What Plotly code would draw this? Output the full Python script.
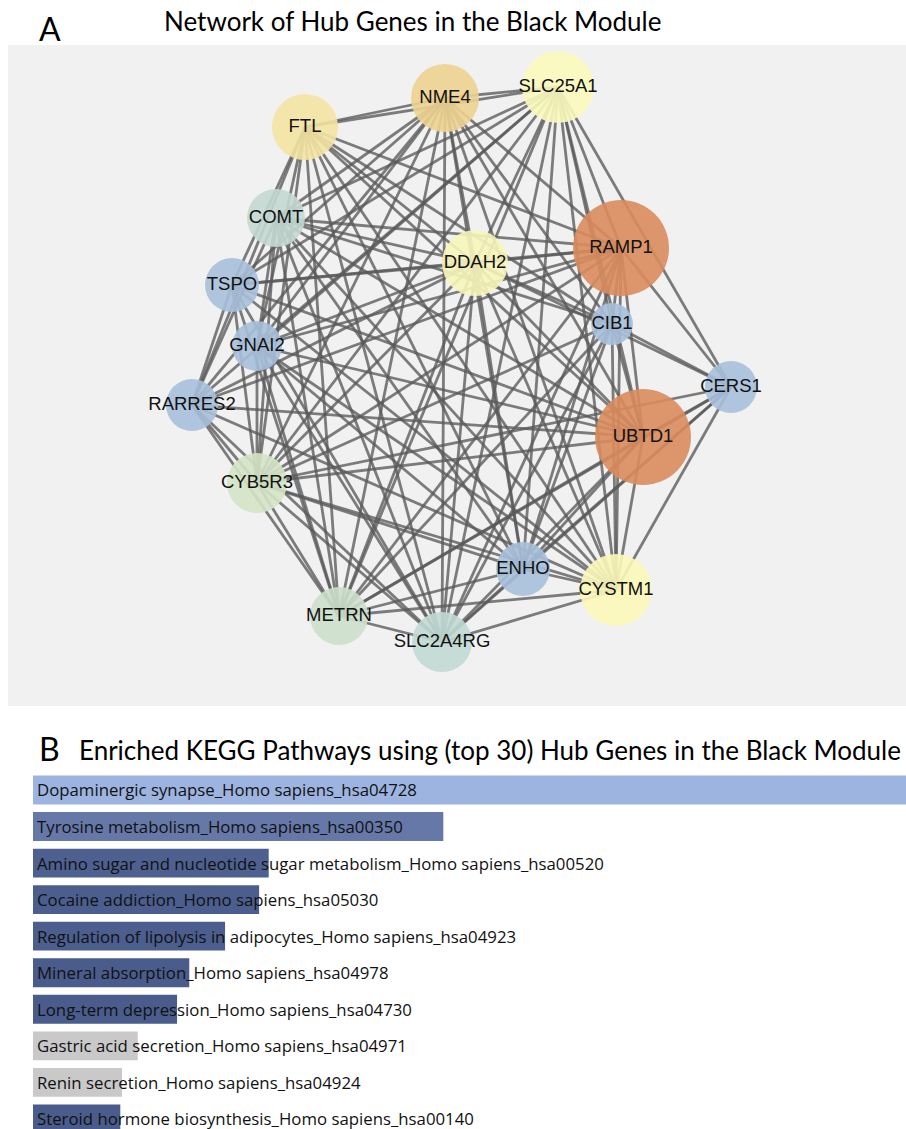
import plotly.graph_objects as go

# ---------------- Network data ----------------
genes = ["FTL", "NME4", "SLC25A1", "COMT", "DDAH2", "RAMP1", "TSPO", "GNAI2",
         "CIB1", "CERS1", "RARRES2", "UBTD1", "CYB5R3", "ENHO", "CYSTM1",
         "METRN", "SLC2A4RG"]

# layout coordinates of each gene (network canvas units)
layout_x = [305, 445, 558, 276, 475, 621, 232, 257, 612, 731, 192, 643, 257, 523, 616, 339, 442]
layout_y = [127, 98, 87, 218, 263, 248, 285, 346, 324, 387, 405, 437, 483, 569, 590, 616, 642]

# node diameter (px) and fill colour
node_size = [66, 68, 72, 58, 66, 96, 54, 50, 42, 52, 52, 96, 60, 54, 72, 58, 60]
node_color = ["#f4e3a3", "#edd190", "#fbf9bd", "#c3d8d1", "#f8f6ba", "#da8c5c",
              "#a7c0db", "#a7c0db", "#a7c0db", "#a7c0db", "#a7c0db", "#da8c5c",
              "#d4e3c5", "#a7c0db", "#fbf8b8", "#cddfcb", "#c1d9d3"]

# gene pairs without an interaction
missing = {("CERS1", "FTL"), ("CERS1", "NME4"), ("CERS1", "COMT"), ("CERS1", "TSPO"),
           ("CERS1", "GNAI2"), ("CERS1", "RARRES2"), ("CIB1", "RARRES2"),
           ("CIB1", "TSPO"), ("CIB1", "GNAI2"), ("COMT", "FTL"), ("COMT", "TSPO"),
           ("GNAI2", "RARRES2"), ("ENHO", "RARRES2"), ("ENHO", "TSPO"),
           ("GNAI2", "TSPO")}

edges = []
for i in range(len(genes)):
    for j in range(i + 1, len(genes)):
        a, b = genes[i], genes[j]
        if (a, b) in missing or (b, a) in missing:
            continue
        edges.append((a, b))

# ---------------- KEGG enrichment data ----------------
pathways = [
    "Dopaminergic synapse_Homo sapiens_hsa04728",
    "Tyrosine metabolism_Homo sapiens_hsa00350",
    "Amino sugar and nucleotide sugar metabolism_Homo sapiens_hsa00520",
    "Cocaine addiction_Homo sapiens_hsa05030",
    "Regulation of lipolysis in adipocytes_Homo sapiens_hsa04923",
    "Mineral absorption_Homo sapiens_hsa04978",
    "Long-term depression_Homo sapiens_hsa04730",
    "Gastric acid secretion_Homo sapiens_hsa04971",
    "Renin secretion_Homo sapiens_hsa04924",
    "Steroid hormone biosynthesis_Homo sapiens_hsa00140",
]
scores = [100.0, 47.0, 27.0, 25.9, 22.0, 17.9, 16.5, 12.0, 10.2, 10.0]
bar_colors = ["#9db4e0", "#6678a8", "#4d6090", "#4b5e8e", "#4b5e8e", "#4a5c8c",
              "#4a5c8c", "#c9c9c9", "#c9c9c9", "#4a5c8c"]

W, H = 906, 1129
fig = go.Figure()

pos = {g: (x, y) for g, x, y in zip(genes, layout_x, layout_y)}

# edges, one trace each so crossings darken
for a, b in edges:
    (x0, y0), (x1, y1) = pos[a], pos[b]
    fig.add_trace(go.Scatter(
        x=[x0, x1], y=[y0, y1], mode="lines",
        line=dict(color="rgba(90,90,90,0.78)", width=2.8),
        hoverinfo="skip", showlegend=False, xaxis="x", yaxis="y"))

# nodes with gene labels
fig.add_trace(go.Scatter(
    x=layout_x, y=layout_y, mode="markers+text", text=genes,
    textposition="middle center",
    textfont=dict(family="Liberation Sans, Arial, sans-serif", size=18.5, color="#111111"),
    marker=dict(size=node_size, color=node_color, opacity=0.9, line=dict(width=0)),
    hoverinfo="text", showlegend=False, xaxis="x", yaxis="y"))

# enrichment bars
fig.add_trace(go.Bar(
    x=scores, y=pathways, orientation="h", marker=dict(color=bar_colors, line=dict(width=0)),
    hoverinfo="x+y", showlegend=False, xaxis="x2", yaxis="y2"))

annotations = []
for p in pathways:
    annotations.append(dict(
        x=0, y=p, xref="x2 domain", yref="y2", xanchor="left", yanchor="middle",
        xshift=2, text=p, showarrow=False,
        font=dict(family="Open Sans, sans-serif", size=16.8, color="#111111")))

title_font = dict(family="Lato, sans-serif", size=26, color="#000000")
letter_font = dict(family="Lato, sans-serif", size=32, color="#000000")
annotations += [
    dict(x=37 / W, y=1 - 29 / H, xref="paper", yref="paper", xanchor="left", yanchor="middle",
         text="A", showarrow=False, font=letter_font),
    dict(x=162 / W, y=1 - 21 / H, xref="paper", yref="paper", xanchor="left", yanchor="middle",
         text="Network of Hub Genes in the Black Module", showarrow=False, font=title_font),
    dict(x=37 / W, y=1 - 748 / H, xref="paper", yref="paper", xanchor="left", yanchor="middle",
         text="B", showarrow=False, font=letter_font),
    dict(x=77 / W, y=1 - 750 / H, xref="paper", yref="paper", xanchor="left", yanchor="middle",
         text="Enriched KEGG Pathways using (top 30) Hub Genes in the Black Module",
         showarrow=False, font=title_font),
]

hidden = dict(showgrid=False, zeroline=False, showticklabels=False, showline=False, ticks="")

fig.update_layout(
    width=W, height=H, margin=dict(l=0, r=0, t=0, b=0),
    paper_bgcolor="white", plot_bgcolor="rgba(0,0,0,0)",
    xaxis=dict(domain=[8 / W, 1], range=[8, 906], **hidden),
    yaxis=dict(domain=[1 - 706 / H, 1 - 45 / H], range=[706, 45], **hidden),
    xaxis2=dict(domain=[33 / W, 1], range=[0, 100], anchor="y2", **hidden),
    yaxis2=dict(domain=[0, 1 - 771.7 / H], type="category", range=[9.275, -0.5],
                anchor="x2", **hidden),
    bargap=0.21,
    shapes=[dict(type="rect", xref="paper", yref="paper", x0=8 / W, x1=1,
                 y0=1 - 706 / H, y1=1 - 45 / H, fillcolor="#f1f1f1", line=dict(width=0),
                 layer="below")],
    annotations=annotations,
)

fig.write_html("out.html")
